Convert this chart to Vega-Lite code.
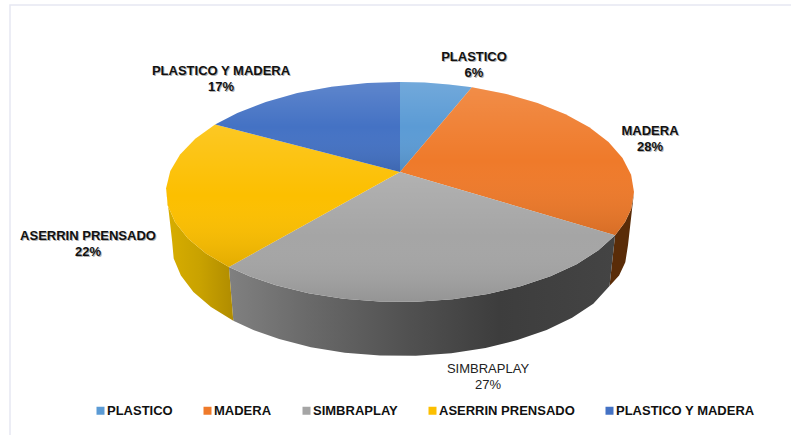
{"$schema":"https://vega.github.io/schema/vega-lite/v6.json","width":791,"height":435,"padding":0,"autosize":{"type":"none"},"background":"white","view":{"stroke":null},
"config":{"text":{"font":"Liberation Sans"},"legend":{"labelFont":"Liberation Sans"}},
"datasets":{
"slices":[{"slice":"PLASTICO","share":6,"label":"PLASTICO\n6%","bold":1,"lx":74,"ly":115},{"slice":"MADERA","share":28,"label":"MADERA\n28%","bold":1,"lx":250,"ly":41},{"slice":"SIMBRAPLAY","share":27,"label":"SIMBRAPLAY\n27%","bold":0,"lx":88,"ly":-197},{"slice":"ASERRIN PRENSADO","share":22,"label":"ASERRIN PRENSADO\n22%","bold":1,"lx":-312,"ly":-64},{"slice":"PLASTICO Y MADERA","share":17,"label":"PLASTICO Y MADERA\n17%","bold":1,"lx":-179,"ly":101}],
"frame":[{"i":1,"x":-390,"y":-263},{"i":2,"x":-390,"y":167},{"i":3,"x":391,"y":167}],
"outline":[
{"slice":"MADERA","part":"rim","i":1,"x":234,"y":-20},{"slice":"MADERA","part":"rim","i":2,"x":231.1,"y":-37.2},{"slice":"MADERA","part":"rim","i":3,"x":224.9,"y":-50.3},{"slice":"MADERA","part":"rim","i":4,"x":215.1,"y":-63.3},{"slice":"MADERA","part":"rim","i":5,"x":209.5,"y":-114},{"slice":"MADERA","part":"rim","i":6,"x":219.1,"y":-103.6},{"slice":"MADERA","part":"rim","i":7,"x":225.3,"y":-90.3},{"slice":"MADERA","part":"rim","i":8,"x":228,"y":-73},
{"slice":"SIMBRAPLAY","part":"rim","i":1,"x":215.1,"y":-63.3},{"slice":"SIMBRAPLAY","part":"rim","i":2,"x":198.4,"y":-78.3},{"slice":"SIMBRAPLAY","part":"rim","i":3,"x":176.6,"y":-92.2},{"slice":"SIMBRAPLAY","part":"rim","i":4,"x":150.4,"y":-104.3},{"slice":"SIMBRAPLAY","part":"rim","i":5,"x":120.5,"y":-114.3},{"slice":"SIMBRAPLAY","part":"rim","i":6,"x":87.7,"y":-122},{"slice":"SIMBRAPLAY","part":"rim","i":7,"x":52.6,"y":-127.2},{"slice":"SIMBRAPLAY","part":"rim","i":8,"x":16.3,"y":-129.7},{"slice":"SIMBRAPLAY","part":"rim","i":9,"x":-20.4,"y":-129.6},{"slice":"SIMBRAPLAY","part":"rim","i":10,"x":-56.6,"y":-126.7},{"slice":"SIMBRAPLAY","part":"rim","i":11,"x":-91.4,"y":-121.3},{"slice":"SIMBRAPLAY","part":"rim","i":12,"x":-124,"y":-113.3},{"slice":"SIMBRAPLAY","part":"rim","i":13,"x":-150.4,"y":-104.3},{"slice":"SIMBRAPLAY","part":"rim","i":14,"x":-171.1,"y":-95},{"slice":"SIMBRAPLAY","part":"rim","i":15,"x":-166.7,"y":-148.7},{"slice":"SIMBRAPLAY","part":"rim","i":16,"x":-146.6,"y":-158},{"slice":"SIMBRAPLAY","part":"rim","i":17,"x":-120.8,"y":-167.1},{"slice":"SIMBRAPLAY","part":"rim","i":18,"x":-89.1,"y":-175.2},{"slice":"SIMBRAPLAY","part":"rim","i":19,"x":-55.2,"y":-180.7},{"slice":"SIMBRAPLAY","part":"rim","i":20,"x":-19.9,"y":-183.6},{"slice":"SIMBRAPLAY","part":"rim","i":21,"x":15.9,"y":-183.7},{"slice":"SIMBRAPLAY","part":"rim","i":22,"x":51.3,"y":-181.2},{"slice":"SIMBRAPLAY","part":"rim","i":23,"x":85.5,"y":-175.9},{"slice":"SIMBRAPLAY","part":"rim","i":24,"x":117.4,"y":-168.1},{"slice":"SIMBRAPLAY","part":"rim","i":25,"x":146.6,"y":-158},{"slice":"SIMBRAPLAY","part":"rim","i":26,"x":172.1,"y":-145.8},{"slice":"SIMBRAPLAY","part":"rim","i":27,"x":193.3,"y":-131.8},{"slice":"SIMBRAPLAY","part":"rim","i":28,"x":209.5,"y":-114},
{"slice":"ASERRIN PRENSADO","part":"rim","i":1,"x":-171.1,"y":-95},{"slice":"ASERRIN PRENSADO","part":"rim","i":2,"x":-194,"y":-81.5},{"slice":"ASERRIN PRENSADO","part":"rim","i":3,"x":-212,"y":-66.5},{"slice":"ASERRIN PRENSADO","part":"rim","i":4,"x":-224.9,"y":-50.3},{"slice":"ASERRIN PRENSADO","part":"rim","i":5,"x":-232.2,"y":-33.4},{"slice":"ASERRIN PRENSADO","part":"rim","i":6,"x":-233.9,"y":-16.2},{"slice":"ASERRIN PRENSADO","part":"rim","i":7,"x":-227.9,"y":-69.1},{"slice":"ASERRIN PRENSADO","part":"rim","i":8,"x":-226.3,"y":-86.5},{"slice":"ASERRIN PRENSADO","part":"rim","i":9,"x":-219.1,"y":-103.6},{"slice":"ASERRIN PRENSADO","part":"rim","i":10,"x":-206.6,"y":-120},{"slice":"ASERRIN PRENSADO","part":"rim","i":11,"x":-189,"y":-135},{"slice":"ASERRIN PRENSADO","part":"rim","i":12,"x":-166.7,"y":-148.7},
{"slice":"PLASTICO","part":"face","i":1,"x":0,"y":0},{"slice":"PLASTICO","part":"face","i":2,"x":0,"y":90},{"slice":"PLASTICO","part":"face","i":3,"x":24.5,"y":89.4},{"slice":"PLASTICO","part":"face","i":4,"x":48.7,"y":87.6},{"slice":"PLASTICO","part":"face","i":5,"x":71.9,"y":84.7},
{"slice":"MADERA","part":"face","i":1,"x":0,"y":0},{"slice":"MADERA","part":"face","i":2,"x":71.9,"y":84.7},{"slice":"MADERA","part":"face","i":3,"x":106.2,"y":78},{"slice":"MADERA","part":"face","i":4,"x":137.5,"y":69},{"slice":"MADERA","part":"face","i":5,"x":165.5,"y":57.8},{"slice":"MADERA","part":"face","i":6,"x":189.3,"y":44.7},{"slice":"MADERA","part":"face","i":7,"x":208.5,"y":29.9},{"slice":"MADERA","part":"face","i":8,"x":222.5,"y":14},{"slice":"MADERA","part":"face","i":9,"x":231.1,"y":-2.8},{"slice":"MADERA","part":"face","i":10,"x":234,"y":-20},{"slice":"MADERA","part":"face","i":11,"x":231.1,"y":-37.2},{"slice":"MADERA","part":"face","i":12,"x":224.9,"y":-50.3},{"slice":"MADERA","part":"face","i":13,"x":215.1,"y":-63.3},
{"slice":"SIMBRAPLAY","part":"face","i":1,"x":0,"y":0},{"slice":"SIMBRAPLAY","part":"face","i":2,"x":215.1,"y":-63.3},{"slice":"SIMBRAPLAY","part":"face","i":3,"x":198.4,"y":-78.3},{"slice":"SIMBRAPLAY","part":"face","i":4,"x":176.6,"y":-92.2},{"slice":"SIMBRAPLAY","part":"face","i":5,"x":150.4,"y":-104.3},{"slice":"SIMBRAPLAY","part":"face","i":6,"x":120.5,"y":-114.3},{"slice":"SIMBRAPLAY","part":"face","i":7,"x":87.7,"y":-122},{"slice":"SIMBRAPLAY","part":"face","i":8,"x":52.6,"y":-127.2},{"slice":"SIMBRAPLAY","part":"face","i":9,"x":16.3,"y":-129.7},{"slice":"SIMBRAPLAY","part":"face","i":10,"x":-20.4,"y":-129.6},{"slice":"SIMBRAPLAY","part":"face","i":11,"x":-56.6,"y":-126.7},{"slice":"SIMBRAPLAY","part":"face","i":12,"x":-91.4,"y":-121.3},{"slice":"SIMBRAPLAY","part":"face","i":13,"x":-124,"y":-113.3},{"slice":"SIMBRAPLAY","part":"face","i":14,"x":-150.4,"y":-104.3},{"slice":"SIMBRAPLAY","part":"face","i":15,"x":-171.1,"y":-95},
{"slice":"ASERRIN PRENSADO","part":"face","i":1,"x":0,"y":0},{"slice":"ASERRIN PRENSADO","part":"face","i":2,"x":-171.1,"y":-95},{"slice":"ASERRIN PRENSADO","part":"face","i":3,"x":-194,"y":-81.5},{"slice":"ASERRIN PRENSADO","part":"face","i":4,"x":-212,"y":-66.5},{"slice":"ASERRIN PRENSADO","part":"face","i":5,"x":-224.9,"y":-50.3},{"slice":"ASERRIN PRENSADO","part":"face","i":6,"x":-232.2,"y":-33.4},{"slice":"ASERRIN PRENSADO","part":"face","i":7,"x":-233.9,"y":-16.2},{"slice":"ASERRIN PRENSADO","part":"face","i":8,"x":-229.7,"y":1},{"slice":"ASERRIN PRENSADO","part":"face","i":9,"x":-219.9,"y":17.6},{"slice":"ASERRIN PRENSADO","part":"face","i":10,"x":-204.7,"y":33.3},{"slice":"ASERRIN PRENSADO","part":"face","i":11,"x":-184.9,"y":47.4},
{"slice":"PLASTICO Y MADERA","part":"face","i":1,"x":0,"y":0},{"slice":"PLASTICO Y MADERA","part":"face","i":2,"x":-184.9,"y":47.4},{"slice":"PLASTICO Y MADERA","part":"face","i":3,"x":-162.6,"y":59.1},{"slice":"PLASTICO Y MADERA","part":"face","i":4,"x":-134.2,"y":70.1},{"slice":"PLASTICO Y MADERA","part":"face","i":5,"x":-102.6,"y":78.9},{"slice":"PLASTICO Y MADERA","part":"face","i":6,"x":-68.4,"y":85.2},{"slice":"PLASTICO Y MADERA","part":"face","i":7,"x":-32.6,"y":88.9},{"slice":"PLASTICO Y MADERA","part":"face","i":8,"x":0,"y":90}
]},
"layer":[
{"data":{"name":"frame"},"mark":{"type":"line","stroke":"#e6e8f2","strokeWidth":1.5},"encoding":{"x":{"field":"x","type":"quantitative","scale":{"domain":[-400,391],"nice":false,"zero":false},"axis":null},"y":{"field":"y","type":"quantitative","scale":{"domain":[-263,172],"nice":false,"zero":false},"axis":null},"order":{"field":"i"}}},
{"data":{"name":"outline"},"transform":[{"filter":"datum.part==='rim' && datum.slice==='MADERA'"}],"mark":{"type":"line","strokeWidth":0,"fill":"#5a2c08"},"encoding":{"x":{"field":"x","type":"quantitative"},"y":{"field":"y","type":"quantitative"},"order":{"field":"i"}}},
{"data":{"name":"outline"},"transform":[{"filter":"datum.part==='rim' && datum.slice==='SIMBRAPLAY'"}],"mark":{"type":"line","strokeWidth":0,"fill":{"gradient":"linear","x1":0,"y1":0,"x2":1,"y2":0,"stops":[{"offset":0,"color":"#808080"},{"offset":0.2,"color":"#6a6a6a"},{"offset":0.45,"color":"#525252"},{"offset":0.7,"color":"#3d3d3d"},{"offset":1,"color":"#444444"}]}},"encoding":{"x":{"field":"x","type":"quantitative"},"y":{"field":"y","type":"quantitative"},"order":{"field":"i"}}},
{"data":{"name":"outline"},"transform":[{"filter":"datum.part==='rim' && datum.slice==='ASERRIN PRENSADO'"}],"mark":{"type":"line","strokeWidth":0,"fill":{"gradient":"linear","x1":0,"y1":0,"x2":1,"y2":0,"stops":[{"offset":0,"color":"#d8ae00"},{"offset":0.5,"color":"#c9a200"},{"offset":1,"color":"#b08c00"}]}},"encoding":{"x":{"field":"x","type":"quantitative"},"y":{"field":"y","type":"quantitative"},"order":{"field":"i"}}},
{"data":{"name":"outline"},"transform":[{"filter":"datum.part==='face'"}],"mark":{"type":"line","strokeWidth":0},"encoding":{"x":{"field":"x","type":"quantitative"},"y":{"field":"y","type":"quantitative"},"order":{"field":"i"},"fill":{"field":"slice","type":"nominal","scale":{"domain":["PLASTICO","MADERA","SIMBRAPLAY","ASERRIN PRENSADO","PLASTICO Y MADERA"],"range":["#5b9bd5","#ef7a2a","#a5a5a5","#fcbf00","#4472c4"]},"legend":{"title":null,"orient":"none","legendX":94,"legendY":404,"direction":"horizontal","columns":5,"columnPadding":28,"symbolType":"square","symbolSize":64,"symbolStrokeWidth":0,"labelOffset":0,"labelFontSize":13,"labelFontWeight":"bold","labelColor":"#111111","labelLimit":200,"padding":0}}}},
{"data":{"name":"outline"},"transform":[{"filter":"datum.part==='face'"}],"mark":{"type":"line","strokeWidth":0,"fill":{"gradient":"linear","x1":0,"y1":0,"x2":0,"y2":1,"stops":[{"offset":0,"color":"rgba(255,255,255,0.14)"},{"offset":0.5,"color":"rgba(255,255,255,0)"},{"offset":1,"color":"rgba(0,0,0,0.1)"}]}},"encoding":{"x":{"field":"x","type":"quantitative"},"y":{"field":"y","type":"quantitative"},"order":{"field":"i"},"detail":{"field":"slice"}}},
{"data":{"name":"slices"},"transform":[{"filter":"datum.bold===1"}],"mark":{"type":"text","fontSize":13,"fontWeight":"bold","lineBreak":"\n","lineHeight":16,"color":"#555555","opacity":0.45,"dx":1,"dy":1},"encoding":{"x":{"field":"lx","type":"quantitative"},"y":{"field":"ly","type":"quantitative"},"text":{"field":"label"}}},
{"data":{"name":"slices"},"transform":[{"filter":"datum.bold===1"}],"mark":{"type":"text","fontSize":13,"fontWeight":"bold","lineBreak":"\n","lineHeight":16,"color":"#111111"},"encoding":{"x":{"field":"lx","type":"quantitative"},"y":{"field":"ly","type":"quantitative"},"text":{"field":"label"}}},
{"data":{"name":"slices"},"transform":[{"filter":"datum.bold===0"}],"mark":{"type":"text","fontSize":13,"lineBreak":"\n","lineHeight":16,"color":"#222222"},"encoding":{"x":{"field":"lx","type":"quantitative"},"y":{"field":"ly","type":"quantitative"},"text":{"field":"label"}}}
]}
